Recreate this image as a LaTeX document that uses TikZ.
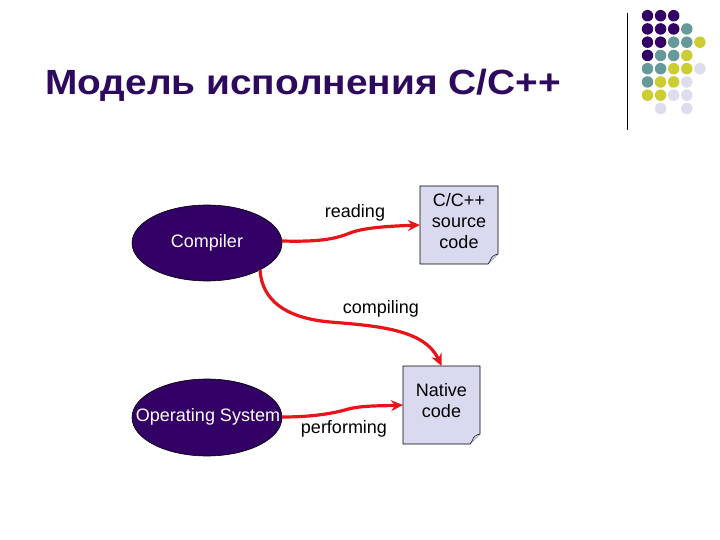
\documentclass[tikz,border=0pt]{standalone}
\usepackage{fontspec}
\setmainfont{Liberation Sans}
\usetikzlibrary{arrows.meta}
\definecolor{dpurple}{HTML}{330066}
\definecolor{tealc}{HTML}{669999}
\definecolor{yelc}{HTML}{CCCC33}
\definecolor{lavc}{HTML}{DDDDEE}
\definecolor{boxc}{HTML}{D9D9F0}
\definecolor{titlec}{HTML}{2E0A5E}
\definecolor{arrc}{HTML}{E8141A}
\tikzset{
  ovalfill/.style={draw=black, line width=0.6pt, fill=dpurple},
  ovaltext/.style={text=white, inner sep=0pt, font=\fontsize{18}{20}\selectfont},
  lbl/.style={font=\fontsize{18}{20}\selectfont, inner sep=0pt},
  doctext/.style={font=\fontsize{18}{21}\selectfont, align=center, inner sep=0pt},
  flow/.style={draw=arrc, line width=3.2pt, -{Stealth[length=12pt,width=11pt]}},
  dot/.style={circle, inner sep=0pt, minimum size=11.5pt}
}
\newcommand{\docbox}[5]{% name, left, top, right, bottom
  \fill[boxc] (#2,-#3) -- (#4,-#3) -- (#4,-#5+10) -- (#4-10,-#5) -- (#2,-#5) -- cycle;
  \draw[black, line width=0.6pt] (#2,-#3) -- (#4,-#3) -- (#4,-#5+10) -- (#4-10,-#5) -- (#2,-#5) -- cycle;
  \draw[black, line width=0.5pt, fill=boxc] (#4,-#5+10) .. controls (#4-5,-#5+9) and (#4-7,-#5+6) .. (#4-7,-#5+5) .. controls (#4-8,-#5+3) and (#4-9,-#5+1) .. (#4-10,-#5);
  \coordinate (#1) at ({(#2+#4)/2},{-(#3+#5)/2});
  \coordinate (#1-w) at (#2,{-(#3+#5)/2});
  \coordinate (#1-n) at ({(#2+#4)/2},-#3);
}
\begin{document}
\begin{tikzpicture}[x=1pt,y=1pt]
\useasboundingbox (0,0) rectangle (720,-540);
% title
\node[anchor=base west, inner sep=0pt, text=titlec, font=\fontsize{35}{40}\selectfont\bfseries] (title) at (45,-95) {\scalebox{1.11}[1]{Модель исполнения С/С++}};
% vertical rule
\draw[black, line width=0.8pt] (627,-13) -- (627,-130);
% dot grid
\foreach \r/\c/\col in {0/0/dpurple,0/1/dpurple,0/2/dpurple,
  1/0/dpurple,1/1/dpurple,1/2/dpurple,1/3/tealc,
  2/0/dpurple,2/1/dpurple,2/2/tealc,2/3/tealc,2/4/yelc,
  3/0/dpurple,3/1/tealc,3/2/tealc,3/3/yelc,
  4/0/tealc,4/1/tealc,4/2/yelc,4/3/yelc,4/4/lavc,
  5/0/tealc,5/1/yelc,5/2/yelc,5/3/lavc,
  6/0/yelc,6/1/yelc,6/2/lavc,6/3/lavc,
  7/1/lavc,7/3/lavc}
  \node[dot, fill=\col] (d\r\c) at ({647.5+13.1*\c},{-15.7-13.25*\r}) {};
% ellipses
\draw[ovalfill] (207,-243) ellipse [x radius=75, y radius=38];
\node[ovaltext] (comp) at (207,-243) {Compiler};
\coordinate (comp-e) at (282,-241);
\draw[ovalfill] (207,-417.5) ellipse [x radius=75, y radius=38.5];
\node[ovaltext] (os) at (208,-417) {Operating System};
\coordinate (os-e) at (282,-417);
% documents
\docbox{src}{420}{186}{498}{264}
\node[doctext] (srct) at (459,-221) {C/C++\\source\\code};
\docbox{nat}{403}{366}{480}{444}
\node[doctext] (natt) at (441.5,-401) {Native\\code};
% arrows
\draw[flow] (comp-e) .. controls (320,-242) and (335,-239) .. (350,-233)
   .. controls (365,-227) and (395,-226) .. (src-w);
\draw[flow] (260,-270) .. controls (262,-300) and (285,-318) .. (330,-322)
   .. controls (380,-326) and (425,-330) .. (nat-n);
\draw[flow] (os-e) .. controls (310,-417) and (330,-414) .. (345,-410)
   .. controls (360,-405) and (385,-406) .. (nat-w);
% labels
\node[lbl] (lread) at (355,-213) {reading};
\node[lbl] (lcomp) at (381,-309) {compiling};
\node[lbl] (lperf) at (344,-429) {performing};
\end{tikzpicture}
\end{document}
